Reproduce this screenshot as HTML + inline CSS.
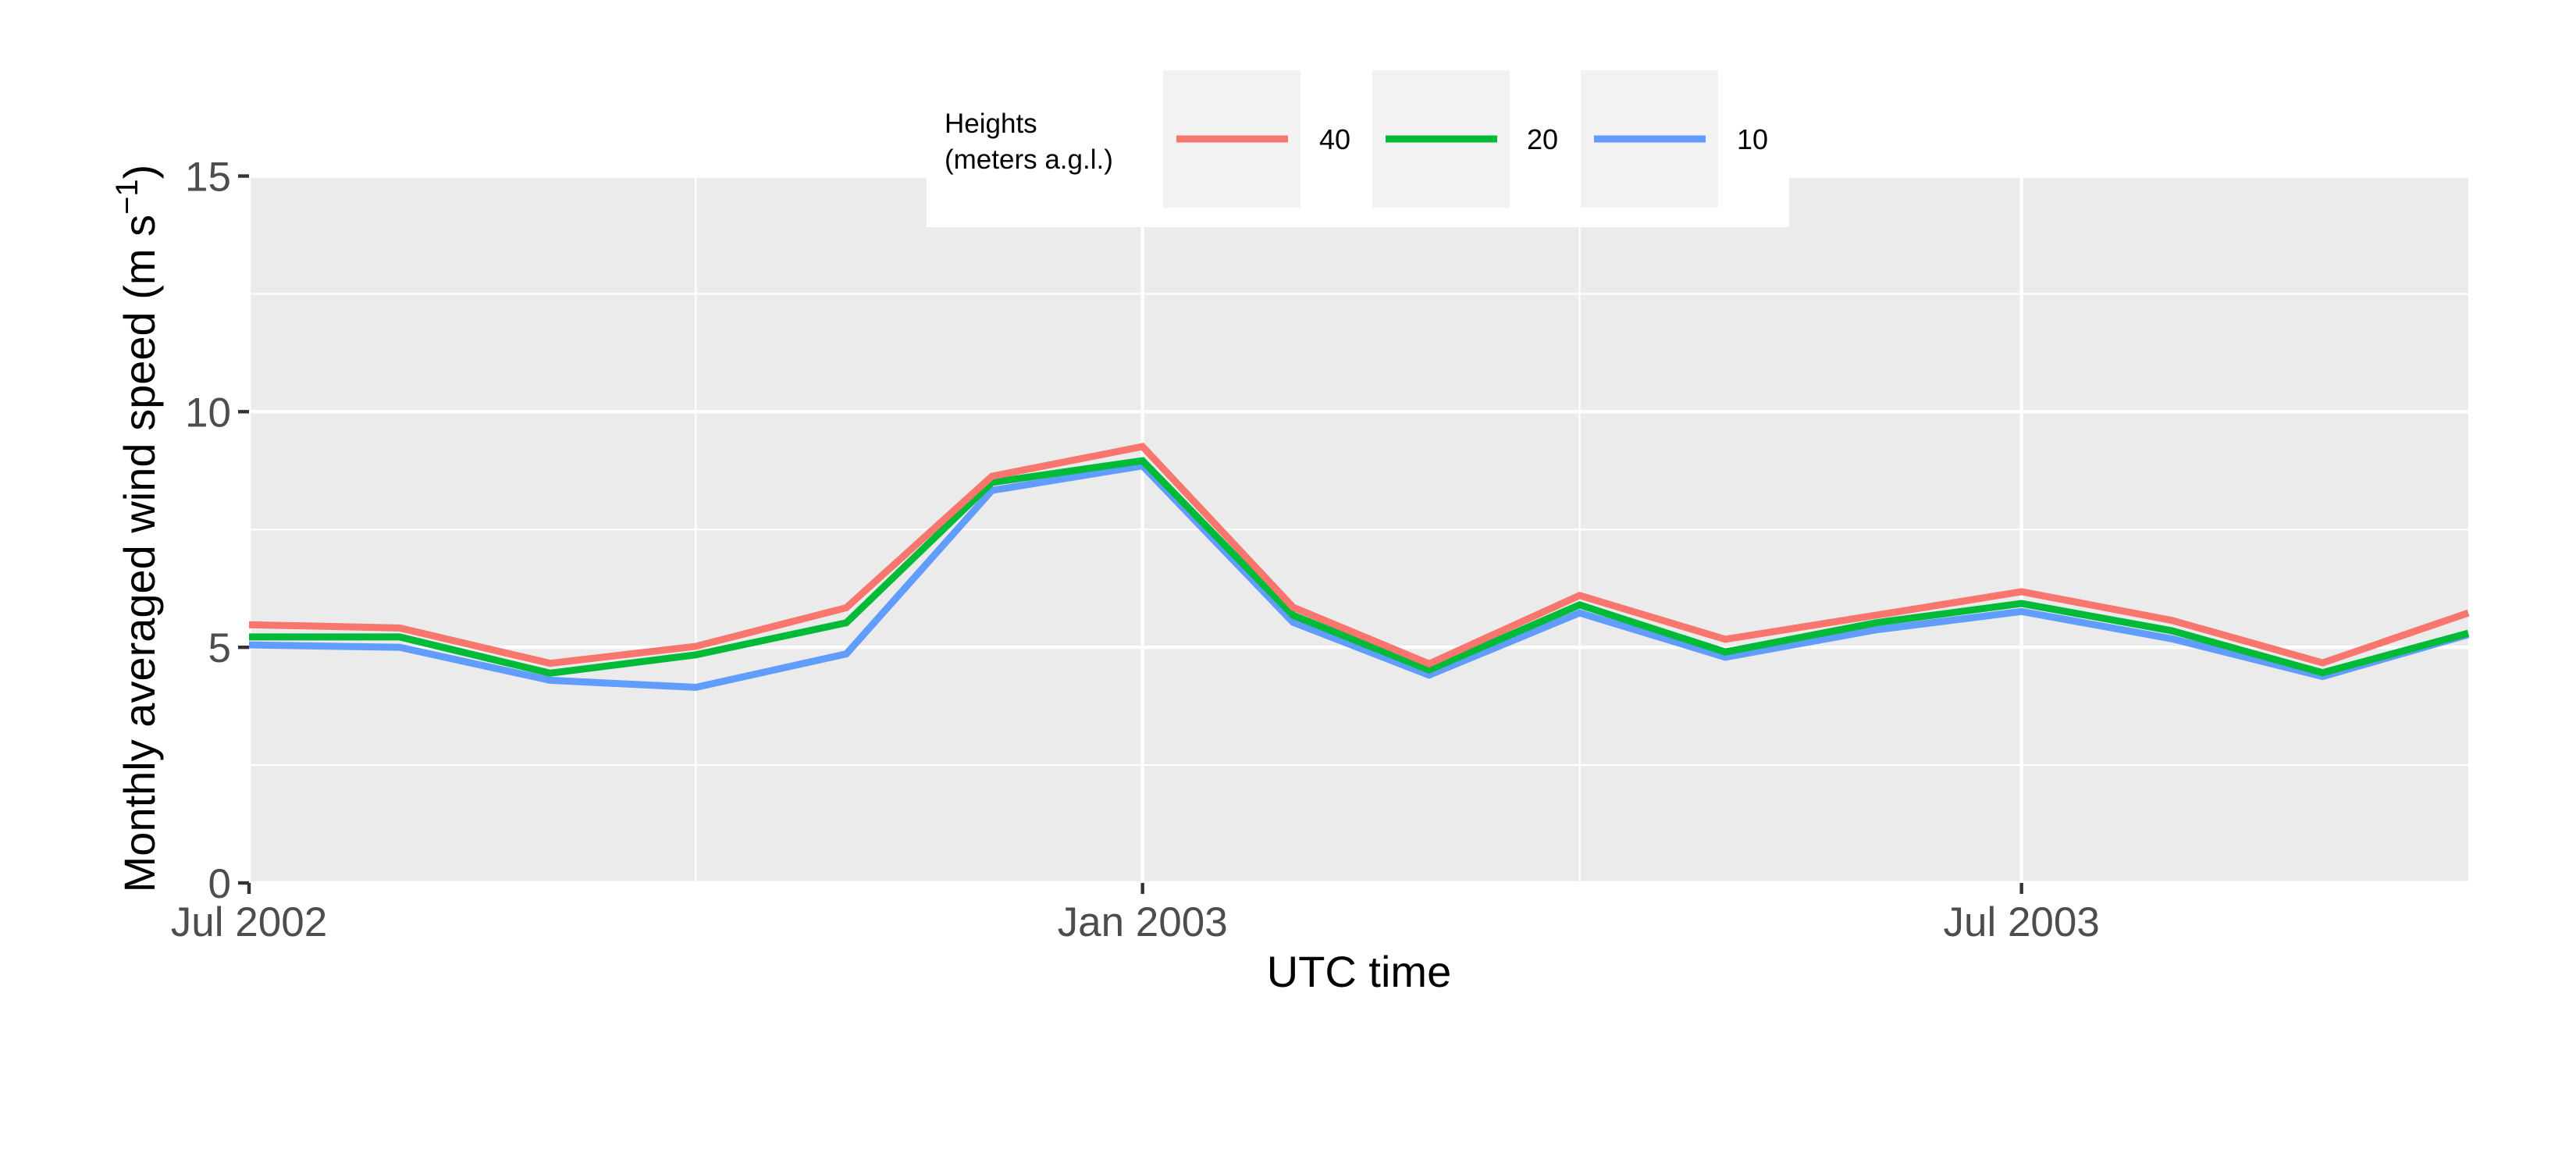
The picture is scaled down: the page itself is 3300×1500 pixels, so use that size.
<!DOCTYPE html>
<html><head><meta charset="utf-8">
<style>
html,body{margin:0;padding:0;background:#fff;}
svg{display:block;font-family:"Liberation Sans",Arial,sans-serif;}
</style></head>
<body>
<svg id="chart" width="3300" height="1500" viewBox="0 0 3300 1500" xmlns="http://www.w3.org/2000/svg">
<rect x="0" y="0" width="3300" height="1500" fill="#fff"/>
<rect x="319" y="225.5" width="2843" height="905.5" fill="#ebebeb"/>
<g id="grid"></g>
<g id="series"></g>
<g id="axes"></g>
<text x="1741" y="1264" font-size="56" text-anchor="middle" fill="#000">UTC time</text>
<text transform="translate(198,677) rotate(-90)" font-size="56" text-anchor="middle" fill="#000">Monthly averaged wind speed (m s<tspan font-size="40" dy="-22">−1</tspan><tspan dy="22">)</tspan></text>
<g>
<rect x="1187" y="60" width="1105" height="231" fill="#fff"/>
<text x="1210" y="170" font-size="35" fill="#000">Heights</text>
<text x="1210" y="216" font-size="35" fill="#000">(meters a.g.l.)</text>
<rect x="1490" y="90" width="176" height="176" fill="#f2f2f2"/>
<line x1="1507" y1="178" x2="1650" y2="178" stroke="#F8766D" stroke-width="9"/>
<text x="1690" y="191" font-size="36" fill="#000">40</text>
<rect x="1758" y="90" width="176" height="176" fill="#f2f2f2"/>
<line x1="1775" y1="178" x2="1918" y2="178" stroke="#00BA38" stroke-width="9"/>
<text x="1956" y="191" font-size="36" fill="#000">20</text>
<rect x="2025" y="90" width="176" height="176" fill="#f2f2f2"/>
<line x1="2042" y1="178" x2="2185" y2="178" stroke="#619CFF" stroke-width="9"/>
<text x="2225" y="191" font-size="36" fill="#000">10</text>
</g>
</svg>
<script>
const months = ["2002-07","2002-08","2002-09","2002-10","2002-11","2002-12","2003-01","2003-02","2003-03","2003-04","2003-05","2003-06","2003-07","2003-08","2003-09","2003-10"];
const h40 = [5.48,5.41,4.66,5.02,5.84,8.63,9.26,5.85,4.65,6.10,5.17,5.68,6.18,5.57,4.67,5.73];
const h20 = [5.22,5.22,4.45,4.84,5.52,8.50,8.96,5.68,4.52,5.90,4.90,5.52,5.93,5.35,4.46,5.30];
const h10 = [5.05,5.00,4.30,4.15,4.86,8.33,8.85,5.53,4.41,5.73,4.79,5.37,5.76,5.18,4.38,5.27];
const yTicks = [0,5,10,15];
const yMinor = [2.5,7.5,12.5];
const xTickDates = ["2002-07-01","2003-01-01","2003-07-01"];
const xTickLabels = ["Jul 2002","Jan 2003","Jul 2003"];
const xMinorDates = ["2002-10-01","2003-04-01"];

const NS="http://www.w3.org/2000/svg";
const t0=Date.UTC(2002,6,1), t1=Date.UTC(2003,9,1);
function parseD(s){const p=s.split("-").map(Number);return Date.UTC(p[0],p[1]-1,p[2]||1);}
function xs(s){return 319+(parseD(s)-t0)/(t1-t0)*2843;}
function ys(v){return 1131-v*(905.5/15);}
function mk(tag,attrs,parent){const e=document.createElementNS(NS,tag);for(const k in attrs)e.setAttribute(k,attrs[k]);parent.appendChild(e);return e;}
const grid=document.getElementById("grid"), axes=document.getElementById("axes"), series=document.getElementById("series");
yMinor.forEach(v=>{const l=mk("line",{x1:319,x2:3162,y1:ys(v),y2:ys(v),stroke:"#fff","stroke-width":2.2},grid);

});
xMinorDates.forEach(d=>{const l=mk("line",{x1:xs(d),x2:xs(d),y1:225.5,y2:1131,stroke:"#fff","stroke-width":2.2},grid);

});
yTicks.forEach(v=>{const l=mk("line",{x1:319,x2:3162,y1:ys(v),y2:ys(v),stroke:"#fff","stroke-width":4.4},grid);


const tk=mk("line",{x1:305,x2:319,y1:ys(v),y2:ys(v),stroke:"#333","stroke-width":4.4},axes);


const tx=mk("text",{x:296,y:ys(v)+19,"font-size":53,"text-anchor":"end",fill:"#4d4d4d"},axes);


tx.textContent=String(v);});
xTickDates.forEach((d,i)=>{const x=xs(d);
const l=mk("line",{x1:x,x2:x,y1:225.5,y2:1131,stroke:"#fff","stroke-width":4.4},grid);


const tk=mk("line",{x1:x,x2:x,y1:1131,y2:1145,stroke:"#333","stroke-width":4.4},axes);


const tx=mk("text",{x:x,y:1199,"font-size":53,"text-anchor":"middle",fill:"#4d4d4d"},axes);


tx.textContent=xTickLabels[i];});
[[h10,"#619CFF","series-10m"],[h20,"#00BA38","series-20m"],[h40,"#F8766D","series-40m"]].forEach(s=>{
const pts=s[0].map((v,i)=>xs(months[i])+","+ys(v)).join(" ");
const pl=mk("polyline",{points:pts,fill:"none",stroke:s[1],"stroke-width":9,"stroke-linejoin":"miter"},series);

});
</script>
</body></html>
